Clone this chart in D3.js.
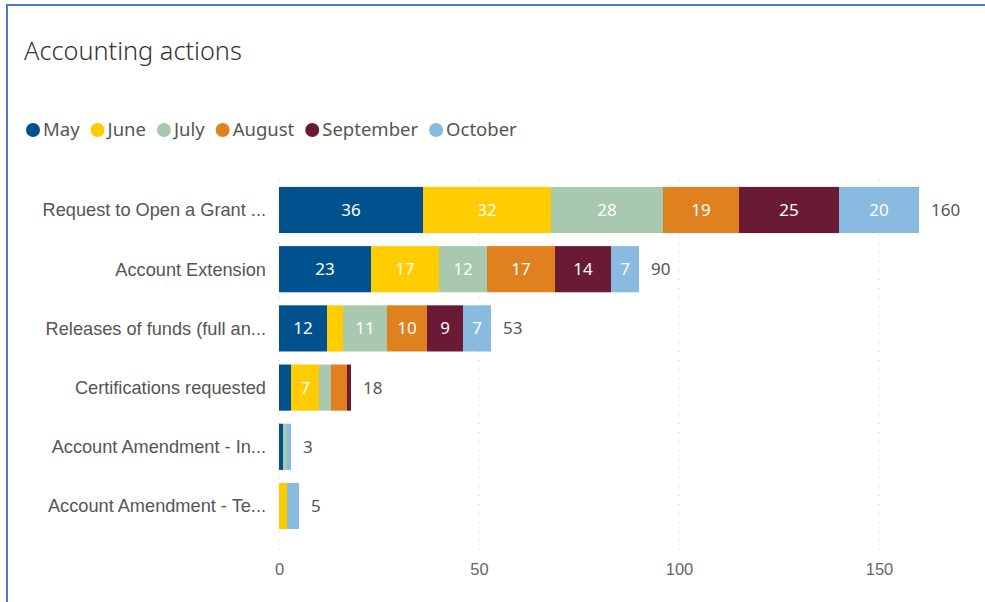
<!DOCTYPE html>
<html>
<head>
<meta charset="utf-8">
<script src="https://cdn.jsdelivr.net/npm/d3@7"></script>
<style>
  body { margin: 0; background: #fff; }
  svg { display: block; font-family: "Noto Sans", "Open Sans", sans-serif; }
  .grid line { stroke: #c8c8c8; stroke-dasharray: 1 8; }
</style>
</head>
<body>
<svg id="chart" width="985" height="602"></svg>
<script>
var categories = [
    "Request to Open a Grant ...",
    "Account Extension",
    "Releases of funds (full an...",
    "Certifications requested",
    "Account Amendment - In...",
    "Account Amendment - Te..."
];
var months = ["May", "June", "July", "August", "September", "October"];
var colors = ["#00528f", "#ffcc00", "#a8c8b0", "#e0801f", "#6b1a35", "#88bbdf"];

// one array per month, in category order
var may       = [36, 23, 12, 3, 1, 0];
var june      = [32, 17, 4, 7, 0, 2];
var july      = [28, 12, 11, 3, 1, 0];
var august    = [19, 17, 10, 4, 0, 0];
var september = [25, 14, 9, 1, 0, 0];
var october   = [20, 7, 7, 0, 1, 3];
var xTicks = [0, 50, 100, 150];

var series = [may, june, july, august, september, october];

var rows = categories.map(function(c, i) {
    var r = {category: c};
    months.forEach(function(m, j) { r[m] = series[j][i]; });
    r.total = d3.sum(series, function(s) { return s[i]; });
    return r;
});

var svg = d3.select("#chart");

// frame
svg.append("line").attr("x1", 7).attr("x2", 985).attr("y1", 5).attr("y2", 5)
    .attr("stroke", "#4a78cc").attr("stroke-width", 2);
svg.append("line").attr("x1", 7).attr("x2", 7).attr("y1", 4).attr("y2", 602)
    .attr("stroke", "#4a78cc").attr("stroke-width", 2);

svg.append("text")
    .attr("x", 24)
    .attr("y", 60)
    .attr("fill", "#333")
    .style("font-size", "25.3px")
    .style("font-weight", 300)
    .text("Accounting actions");

// legend
var legend = svg.append("g").attr("class", "legend");
var lx = 33;
months.forEach(function(m, j) {
    legend.append("circle")
        .attr("cx", lx).attr("cy", 130).attr("r", 7)
        .attr("fill", colors[j]);
    var t = legend.append("text")
        .attr("x", lx + 10).attr("y", 136)
        .attr("fill", "#555")
        .style("font-size", "18.5px")
        .text(m);
    lx += 10 + t.node().getComputedTextLength() + 18;
});

var x = d3.scaleLinear().domain([0, 175]).range([279, 979]);
var y = d3.scaleBand().domain(categories).range([180.4, 535.6])
    .paddingInner(0.22).paddingOuter(0.11);

// dotted gridlines
svg.append("g").attr("class", "grid")
    .selectAll("line")
    .data(xTicks)
    .enter().append("line")
    .attr("x1", function(d) { return x(d); })
    .attr("x2", function(d) { return x(d); })
    .attr("y1", 180)
    .attr("y2", 556);

var xAxis = svg.append("g")
    .attr("transform", "translate(0,556)")
    .call(d3.axisBottom(x).tickValues(xTicks).tickSize(0).tickPadding(7));
xAxis.select(".domain").remove();
xAxis.selectAll("text")
    .attr("fill", "#666")
    .style("font-family", "inherit")
    .style("font-size", "16.5px");

var yAxis = svg.append("g")
    .attr("transform", "translate(266,0)")
    .call(d3.axisLeft(y).tickSize(0).tickPadding(0));
yAxis.select(".domain").remove();
yAxis.selectAll("text")
    .attr("fill", "#555")
    .attr("dy", "0.35em")
    .style("font-family", "inherit")
    .style("font-size", "18.2px");

var stacked = d3.stack().keys(months)(rows);

var layers = svg.append("g").selectAll("g")
    .data(stacked)
    .enter().append("g")
    .attr("fill", function(d, i) { return colors[i]; });

layers.selectAll("rect")
    .data(function(d) { return d; })
    .enter().append("rect")
    .attr("x", function(d) { return x(d[0]); })
    .attr("y", function(d) { return y(d.data.category); })
    .attr("width", function(d) { return x(d[1]) - x(d[0]); })
    .attr("height", y.bandwidth());

layers.selectAll("text")
    .data(function(d) { return d.filter(function(p) { return x(p[1]) - x(p[0]) >= 24; }); })
    .enter().append("text")
    .attr("x", function(d) { return (x(d[0]) + x(d[1])) / 2; })
    .attr("y", function(d) { return y(d.data.category) + y.bandwidth() / 2; })
    .attr("dy", "0.35em")
    .attr("text-anchor", "middle")
    .attr("fill", "#fff")
    .style("font-size", "17px")
    .text(function(d) { return d[1] - d[0]; });

svg.append("g").selectAll("text")
    .data(rows)
    .enter().append("text")
    .attr("x", function(d) { return x(d.total) + 12; })
    .attr("y", function(d) { return y(d.category) + y.bandwidth() / 2; })
    .attr("dy", "0.35em")
    .attr("fill", "#555")
    .style("font-size", "17px")
    .text(function(d) { return d.total; });
</script>
</body>
</html>
